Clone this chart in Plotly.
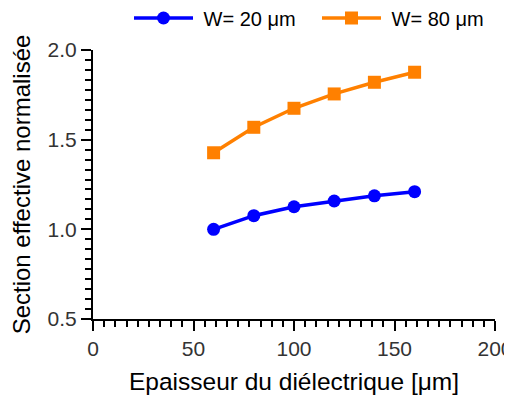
import plotly.graph_objects as go

thickness = [60, 80, 100, 120, 140, 160]
w20 = [1.0, 1.076, 1.126, 1.158, 1.187, 1.21]
w80 = [1.427, 1.569, 1.675, 1.755, 1.820, 1.876]
series_names = ["W= 20 μm", "W= 80 μm"]

FONT = "Liberation Sans, Arial, sans-serif"
W, H = 504, 390  # page body adds an 8px margin
PAD = "\u00a0"  # visual gap between legend symbol and text

fig = go.Figure()
fig.add_trace(go.Scatter(
    x=thickness, y=w20, name=PAD + series_names[0], mode="lines+markers",
    line=dict(color="#0000FF", width=3.5),
    marker=dict(symbol="circle", size=13, color="#0000FF"),
))
fig.add_trace(go.Scatter(
    x=thickness, y=w80, name=PAD + series_names[1], mode="lines+markers",
    line=dict(color="#FF8000", width=3.5),
    marker=dict(symbol="square", size=13, color="#FF8000"),
))

axis_common = dict(
    showline=True, linecolor="black", linewidth=2,
    ticks="outside", ticklen=10, tickwidth=2, tickcolor="black",
    showgrid=False, zeroline=False, automargin=False,
    ticklabeloverflow="allow",
    tickfont=dict(family=FONT, size=21, color="#333333"),
)

fig.update_xaxes(
    range=[0, 200], tick0=0, dtick=50,
    minor=dict(ticks="outside", ticklen=6, tickwidth=2, tickcolor="black",
               tick0=0, dtick=50 / 9, showgrid=False),
    title=dict(text="Epaisseur du diélectrique [μm]",
               font=dict(family=FONT, size=24.5, color="black"), standoff=14),
    **axis_common,
)
fig.update_yaxes(
    range=[0.5, 2.0], tick0=0.5, dtick=0.5, tickformat=".1f",
    minor=dict(ticks="outside", ticklen=6, tickwidth=2, tickcolor="black",
               tick0=0.5, dtick=0.5 / 9, showgrid=False),
    title=dict(text="Section effective normalisée",
               font=dict(family=FONT, size=24, color="black"), standoff=12),
    **axis_common,
)

fig.update_layout(
    width=W, height=H,
    margin=dict(l=85, r=17, t=42, b=79),
    plot_bgcolor="white", paper_bgcolor="white",
    font=dict(family=FONT, color="black"),
    showlegend=True,
    legend=dict(orientation="h", xref="container", yref="container",
                x=121 / W, xanchor="left", y=1 - 10 / H, yanchor="middle",
                font=dict(family=FONT, size=20, color="black"),
                itemwidth=59, entrywidth=114, entrywidthmode="pixels",
                bgcolor="rgba(0,0,0,0)"),
)

fig.write_html("out.html")
